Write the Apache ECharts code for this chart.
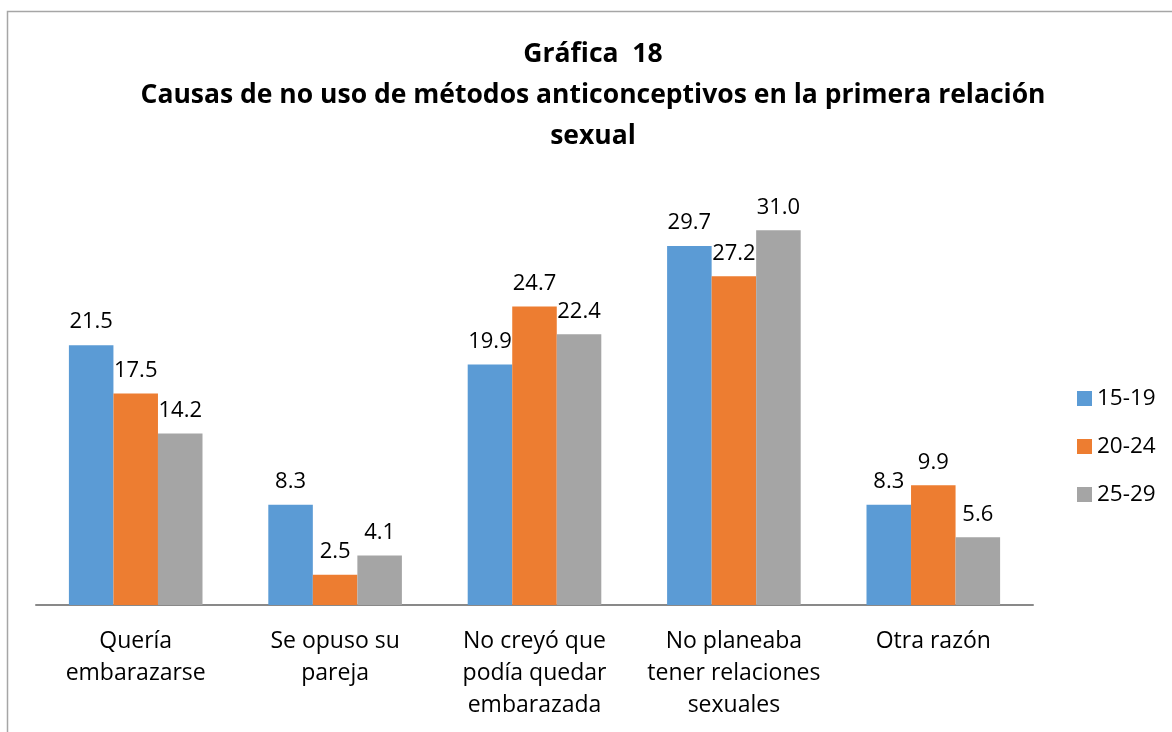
<!DOCTYPE html>
<html>
<head>
<meta charset="utf-8">
<script src="https://cdn.jsdelivr.net/npm/echarts@6/dist/echarts.min.js"></script>
<style>
  html, body { margin: 0; padding: 0; background: #fff; }
  #main { width: 1172px; height: 732px; }
</style>
</head>
<body>
<div id="main"></div>
<script>
// datos de la gráfica
const categorias = ['Quería\nembarazarse', 'Se opuso su\npareja', 'No creyó que\npodía quedar\nembarazada', 'No planeaba\ntener relaciones\nsexuales', 'Otra razón']
const grupos = ['15-19', '20-24', '25-29']
const v1519 = [21.5, 8.3, 19.9, 29.7, 8.3]
const v2024 = [17.5, 2.5, 24.7, 27.2, 9.9]
const v2529 = [14.2, 4.1, 22.4, 31.0, 5.6]
const colores = ['#5B9BD5', '#ED7D31', '#A5A5A5']

const fuente = 'Open Sans'
const myChart = echarts.init(document.getElementById('main'))

function serie(nombre, datos, i) {
  return {
    name: nombre,
    type: 'bar',
    data: datos,
    barGap: '0%',
    barCategoryGap: '33%',
    itemStyle: { color: colores[i] },
    label: {
      show: true,
      position: 'top',
      distance: 12,
      color: '#000',
      fontSize: 22,
      fontFamily: fuente,
      formatter: p => p.value.toFixed(1)
    }
  }
}

const option = {
  backgroundColor: '#fff',
  animation: false,
  title: {
    text: 'Gráfica  18\nCausas de no uso de métodos anticonceptivos en la primera relación\nsexual',
    left: 588,
    textAlign: 'center',
    top: 29,
    textStyle: {
      fontSize: 26.5,
      fontWeight: 'bold',
      fontFamily: fuente,
      color: '#000',
      lineHeight: 41
    }
  },
  legend: {
    orient: 'vertical',
    left: 1072,
    top: 382,
    itemWidth: 15,
    itemHeight: 15,
    itemGap: 25,
    icon: 'rect',
    textStyle: { fontSize: 22.5, fontFamily: fuente, color: '#000' },
    data: grupos
  },
  grid: { left: 36, right: 139, top: 182, bottom: 127 },
  xAxis: {
    type: 'category',
    data: categorias,
    axisLine: { show: true, lineStyle: { color: '#898989', width: 2 } },
    axisTick: { show: false },
    axisLabel: {
      color: '#000',
      fontSize: 23,
      fontFamily: fuente,
      lineHeight: 32,
      margin: 20,
      interval: 0
    }
  },
  yAxis: {
    type: 'value',
    min: 0,
    max: 35,
    show: false,
    splitLine: { show: false }
  },
  graphic: [{
    type: 'rect',
    shape: { x: 7.5, y: 11.5, width: 1300, height: 900 },
    style: { fill: 'none', stroke: '#a6a6a6', lineWidth: 1.5 },
    silent: true
  }],
  series: [
    serie(grupos[0], v1519, 0),
    serie(grupos[1], v2024, 1),
    serie(grupos[2], v2529, 2)
  ]
}

myChart.setOption(option)
</script>
</body>
</html>
